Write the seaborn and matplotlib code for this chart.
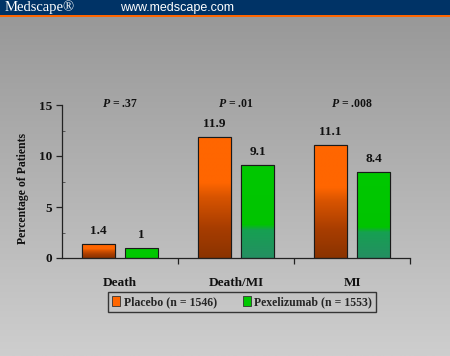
import numpy as np
import pandas as pd
import matplotlib
matplotlib.use("Agg")
import matplotlib.pyplot as plt
import seaborn as sns
from matplotlib.patches import Rectangle
from matplotlib.colors import LinearSegmentedColormap, to_rgb

# ---- data ----
categories = ["Death", "Death/MI", "MI"]
placebo = [1.4, 11.9, 11.1]
pexelizumab = [1.0, 9.1, 8.4]
placebo_labels = ["1.4", "11.9", "11.1"]
pexelizumab_labels = ["1", "9.1", "8.4"]
p_values = ["$P$ = .37", "$P$ = .01", "$P$ = .008"]
series_names = ["Placebo (n = 1546)", "Pexelizumab (n = 1553)"]
y_ticks = [0, 5, 10, 15]

sns.set_theme(style="white")
plt.rcParams["font.family"] = ["Liberation Serif", "DejaVu Serif"]
plt.rcParams["font.weight"] = "bold"
plt.rcParams["mathtext.fontset"] = "custom"
plt.rcParams["mathtext.it"] = "Liberation Serif:italic:bold"
plt.rcParams["mathtext.rm"] = "Liberation Serif:bold"

W, H = 450, 356
fig = plt.figure(figsize=(W / 100, H / 100), dpi=100)

# background gradient
bg = fig.add_axes([0, 0, 1, 1], zorder=-10)
grad = np.linspace(0, 1, 256).reshape(-1, 1)
bg_cmap = LinearSegmentedColormap.from_list("bg", ["#969696", "#cecece"])
bg.imshow(grad, aspect="auto", cmap=bg_cmap, extent=[0, 1, 0, 1], origin="upper")
bg.set_axis_off()

# header
fig.patches.append(Rectangle((0, 1 - 15 / H), 1, 15 / H, transform=fig.transFigure,
                             facecolor="#003366", edgecolor="none", zorder=5))
fig.patches.append(Rectangle((0, 1 - 17 / H), 1, 2 / H, transform=fig.transFigure,
                             facecolor="#ff6600", edgecolor="none", zorder=5))
fig.text(5 / W, 1 - 7.5 / H, "Medscape\u00ae", color="white", fontsize=10.5,
         fontweight="normal", family=["Liberation Serif"], va="center", ha="left", zorder=6)
fig.text(120 / W, 1 - 7.5 / H, "www.medscape.com", color="white", fontsize=9,
         fontweight="normal", family=["Liberation Sans"], va="center", ha="left", zorder=6)

# main axes
ax = fig.add_axes([62 / W, 1 - 258 / H, (410 - 62) / W, (258 - 105) / H])
ax.set_facecolor("none")

df = pd.DataFrame({
    "category": categories * 2,
    "value": placebo + pexelizumab,
    "group": [series_names[0]] * 3 + [series_names[1]] * 3,
})
palette = {series_names[0]: "#ff6600", series_names[1]: "#00c800"}
sns.barplot(data=df, x="category", y="value", hue="group", order=categories,
            hue_order=series_names, palette=palette, width=0.74, gap=0.22,
            edgecolor="#1a1a1a", linewidth=0.8, saturation=1, ax=ax, legend=True)

# gradient overlays (relative to each bar)
orange_cmap = LinearSegmentedColormap.from_list(
    "or", [(0, "#8a3300"), (0.25, "#a83d00"), (0.5, "#d85400"), (0.62, "#ff6600"), (1, "#ff6600")])
green_cmap = LinearSegmentedColormap.from_list(
    "gr", [(0, "#258f62"), (0.3, "#16a052"), (0.36, "#00c400"), (1, "#00c800")])
bars = [p for p in ax.patches if isinstance(p, Rectangle) and p.get_height() > 0]
col_grad = np.linspace(0, 1, 256).reshape(-1, 1)
for p in bars:
    x0, y0 = p.get_x(), p.get_y()
    w, h = p.get_width(), p.get_height()
    fc = to_rgb(p.get_facecolor())
    is_orange = fc[0] > 0.5
    if not is_orange and h < 3:
        continue
    cmap = orange_cmap if is_orange else green_cmap
    im = ax.imshow(col_grad, aspect="auto", cmap=cmap, origin="lower",
                   extent=[x0, x0 + w, y0, y0 + h], zorder=p.get_zorder() + 0.1,
                   interpolation="bilinear")
    im.set_clip_path(p)
    edge = Rectangle((x0, y0), w, h, facecolor="none", edgecolor="#1a1a1a",
                     linewidth=0.8, zorder=p.get_zorder() + 0.2)
    ax.add_patch(edge)

ax.set_xlim(-0.5, 2.5)
ax.set_ylim(0, 15)

# value labels
offsets = [-0.185, 0.185]
for i in range(len(categories)):
    ax.annotate(placebo_labels[i], (i + offsets[0], placebo[i]), xytext=(0, 5),
                textcoords="offset points", ha="center", va="bottom", fontsize=9.5,
                fontweight="bold", color="#111111")
    ax.annotate(pexelizumab_labels[i], (i + offsets[1], pexelizumab[i]), xytext=(0, 5),
                textcoords="offset points", ha="center", va="bottom", fontsize=9.5,
                fontweight="bold", color="#111111")
    ax.text(i, 15.1, p_values[i], ha="center", va="center", fontsize=8.5,
            fontweight="bold", color="#111111")

# axes styling
for s in ["top", "right"]:
    ax.spines[s].set_visible(False)
for s in ["left", "bottom"]:
    ax.spines[s].set_color("#222222")
    ax.spines[s].set_linewidth(0.9)
ax.set_yticks(y_ticks)
ax.set_yticks([2.5, 7.5, 12.5], minor=True)
ax.tick_params(axis="y", which="major", direction="out", length=4, width=0.9,
               color="#222222", labelsize=9.5, pad=3, left=True)
ax.tick_params(axis="y", which="minor", direction="in", length=2, width=0.6,
               color="#444444", left=True)
ax.set_xticks([0.5, 1.5, 2.5], minor=True)
ax.tick_params(axis="x", which="major", length=0, labelsize=9.5, pad=14)
ax.tick_params(axis="x", which="minor", direction="out", length=4, width=0.9,
               color="#222222", bottom=True)
for lbl in ax.get_xticklabels() + ax.get_yticklabels():
    lbl.set_fontweight("bold")
    lbl.set_color("#111111")
ax.set_xlabel("")
ax.set_ylabel("Percentage of Patients", fontsize=8.5, fontweight="bold", color="#111111")
ax.yaxis.set_label_coords(-0.095, 0.455)

# legend
handles, labels = ax.get_legend_handles_labels()
ax.legend_.remove()
leg = fig.legend(handles, labels, loc="center", bbox_to_anchor=(242 / W, 1 - 302 / H),
                 ncol=2, frameon=True, fancybox=False,
                 handlelength=0.7, handleheight=1.0, handletextpad=0.3,
                 columnspacing=2.2, borderpad=0.35, prop={"weight": "bold", "size": 8.5})
leg.get_frame().set_edgecolor("#111111")
leg.get_frame().set_linewidth(1.0)
leg.get_frame().set_facecolor("none")
for hp in leg.legend_handles:
    hp.set_edgecolor("#333333")
    hp.set_linewidth(0.6)

fig.savefig("out.png", dpi=100)
